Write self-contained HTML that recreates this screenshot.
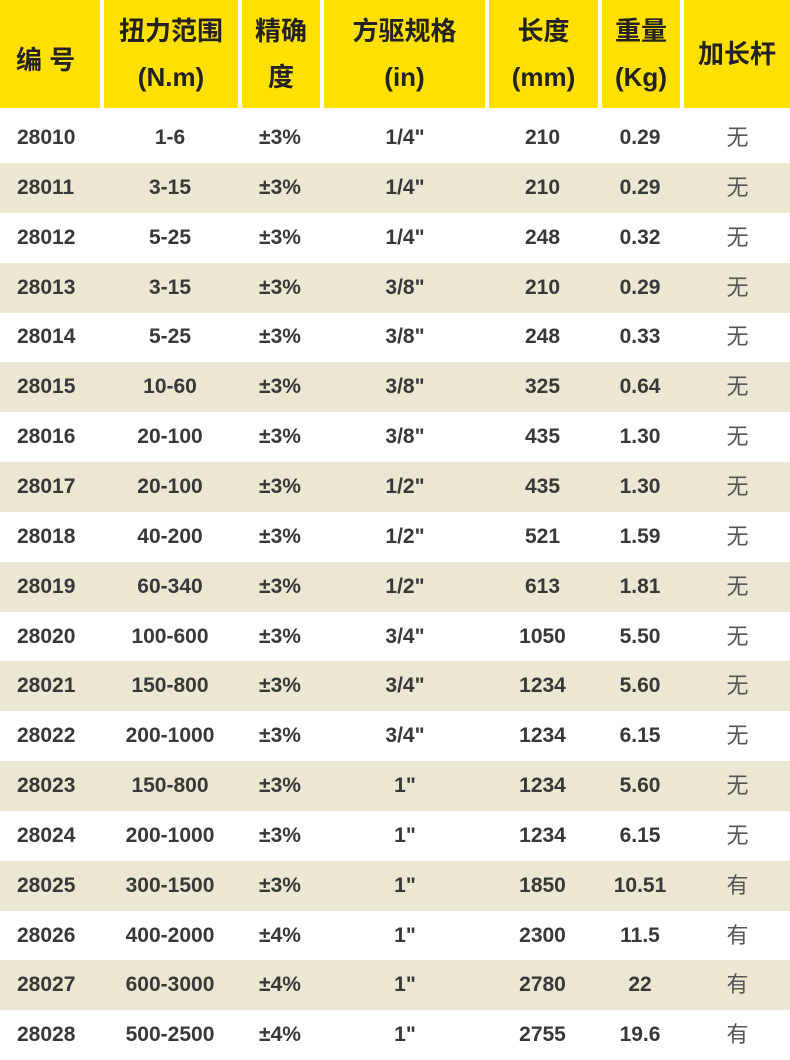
<!DOCTYPE html>
<html><head><meta charset="utf-8"><style>
body{margin:0;width:790px;height:1052px;overflow:hidden;background:#fff;font-family:"Liberation Sans","Noto Sans CJK SC",sans-serif;}
.hd{position:absolute;top:0;height:108px;background:#ffe000;display:flex;flex-direction:column;align-items:center;justify-content:center;font-weight:bold;font-size:26px;color:#222;line-height:46px;text-align:center}
.row{position:absolute;left:0;width:790px;height:50px;}
.row.b{background:#ebe7d3}
.c{position:absolute;top:0;height:50px;line-height:50px;font-size:21px;font-weight:bold;color:#383838;text-align:center}
</style></head><body>
<div class="hd" style="left:0;width:100px;align-items:flex-start;padding-left:16px;box-sizing:border-box"><span style="margin-top:12px">编 号</span></div>
<div class="hd" style="left:104px;width:134px"><span>扭力范围</span><span>(N.m)</span></div>
<div class="hd" style="left:242px;width:78px"><span>精确</span><span>度</span></div>
<div class="hd" style="left:324px;width:161px"><span>方驱规格</span><span>(in)</span></div>
<div class="hd" style="left:489px;width:109px"><span>长度</span><span>(mm)</span></div>
<div class="hd" style="left:602px;width:78px"><span>重量</span><span>(Kg)</span></div>
<div class="hd" style="left:684px;width:106px"><span>加长杆</span></div>
<div id="t"></div>
<script>
var d=[["28010","1-6","±3%","1/4\"","210","0.29","无"],["28011","3-15","±3%","1/4\"","210","0.29","无"],["28012","5-25","±3%","1/4\"","248","0.32","无"],["28013","3-15","±3%","3/8\"","210","0.29","无"],["28014","5-25","±3%","3/8\"","248","0.33","无"],["28015","10-60","±3%","3/8\"","325","0.64","无"],["28016","20-100","±3%","3/8\"","435","1.30","无"],["28017","20-100","±3%","1/2\"","435","1.30","无"],["28018","40-200","±3%","1/2\"","521","1.59","无"],["28019","60-340","±3%","1/2\"","613","1.81","无"],["28020","100-600","±3%","3/4\"","1050","5.50","无"],["28021","150-800","±3%","3/4\"","1234","5.60","无"],["28022","200-1000","±3%","3/4\"","1234","6.15","无"],["28023","150-800","±3%","1\"","1234","5.60","无"],["28024","200-1000","±3%","1\"","1234","6.15","无"],["28025","300-1500","±3%","1\"","1850","10.51","有"],["28026","400-2000","±4%","1\"","2300","11.5","有"],["28027","600-3000","±4%","1\"","2780","22","有"],["28028","500-2500","±4%","1\"","2755","19.6","有"]];
var cx=[[6,80],[110,120],[245,70],[340,130],[490,105],[595,90],[690,95]];
var h="";
d.forEach(function(r,i){h+='<div class="row'+(i%2?' b':'')+'" style="top:'+(113+i*49.85)+'px">';
r.forEach(function(v,j){var st='left:'+cx[j][0]+'px;width:'+cx[j][1]+'px';
if(j==0)st='left:17px;text-align:left;width:90px';
if(j==6)st+=';color:#555;font-weight:normal;font-size:22px';
h+='<div class="c" style="'+st+'">'+v+'</div>';});h+='</div>';});
document.getElementById('t').innerHTML=h;
</script>
</body></html>
